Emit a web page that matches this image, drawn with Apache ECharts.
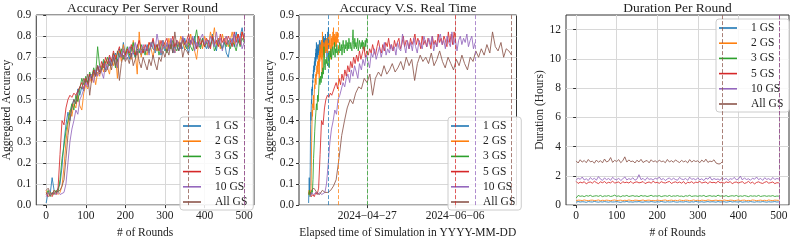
<!DOCTYPE html>
<html><head><meta charset="utf-8">
<script src="https://cdn.jsdelivr.net/npm/echarts@6/dist/echarts.min.js"></script>
<style>html,body{margin:0;padding:0;background:#fff}#c{width:793px;height:244px}</style>
</head><body><div id="c"></div>
<script>
// ---------- data ----------
const seriesNames = ['1 GS','2 GS','3 GS','5 GS','10 GS','All GS'];
const roundStep = 5; // one value every 5 server rounds
const roundTicks = [0,100,200,300,400,500];
const durationTicks = [0,2,4,6,8,10,12];
const dateTicks = ['2024-04-27','2024-06-06'];
const simStart = '2024-03-31T07:00:00Z';
const realTimeEndDays = [9.2,13.4,26.6,66.9,75.8,92.4];

const acc1GS = [0.01,0.06,0.05,0.13,0.07,0.06,0.08,
0.10,0.18,0.30,0.38,0.44,0.40,0.47,0.50,0.48,0.55,0.52,0.56,0.54,0.59,
0.58,0.62,0.60,0.64,0.61,0.66,0.63,0.65,0.68,0.64,
0.67,0.70,0.66,0.69,0.72,0.68,0.74,0.70,0.77,0.71,
0.73,0.69,0.75,0.72,0.70,0.76,0.73,0.71,0.74,0.72,
0.76,0.73,0.75,0.78,0.72,0.74,0.77,0.71,0.75,0.73,
0.76,0.74,0.78,0.72,0.75,0.77,0.73,0.76,0.74,0.79,
0.75,0.72,0.78,0.76,0.80,0.74,0.77,0.75,0.79,0.76,
0.74,0.78,0.75,0.81,0.77,0.73,0.79,0.76,0.74,0.78,
0.72,0.70,0.76,0.79,0.75,0.82,0.77,0.80,0.84,0.78];
const acc2GS = [0.07,0.05,0.06,0.05,0.07,0.06,0.05,
0.06,0.09,0.18,0.30,0.38,0.45,0.42,0.48,0.46,0.52,0.47,0.45,0.53,0.57,
0.55,0.60,0.58,0.62,0.57,0.63,0.61,0.66,0.63,0.68,
0.65,0.62,0.69,0.66,0.71,0.60,0.73,0.68,0.76,0.70,
0.74,0.71,0.69,0.78,0.72,0.62,0.82,0.70,0.75,0.73,
0.71,0.77,0.74,0.70,0.76,0.73,0.78,0.72,0.75,0.77,
0.73,0.79,0.74,0.76,0.72,0.78,0.75,0.80,0.77,0.74,
0.78,0.75,0.81,0.76,0.73,0.69,0.77,0.79,0.74,0.80,
0.77,0.75,0.82,0.78,0.84,0.76,0.79,0.74,0.81,0.77,
0.80,0.75,0.78,0.82,0.76,0.79,0.81,0.77,0.82,0.79];
const acc3GS = [0.05,0.07,0.04,0.06,0.05,0.07,0.06,
0.12,0.22,0.28,0.35,0.40,0.44,0.48,0.45,0.52,0.49,0.55,0.60,0.57,0.61,
0.58,0.63,0.60,0.65,0.62,0.75,0.66,0.64,0.69,0.67,
0.70,0.66,0.68,0.72,0.65,0.73,0.70,0.74,0.69,0.72,
0.75,0.71,0.73,0.77,0.70,0.74,0.72,0.76,0.73,0.71,
0.75,0.72,0.77,0.74,0.73,0.76,0.71,0.75,0.78,0.74,
0.72,0.76,0.74,0.78,0.75,0.73,0.77,0.74,0.79,0.76,
0.74,0.77,0.75,0.73,0.78,0.83,0.76,0.74,0.79,0.75,
0.77,0.74,0.76,0.79,0.73,0.75,0.78,0.76,0.74,0.77,
0.75,0.78,0.74,0.77,0.76,0.73,0.78,0.75,0.79,0.77];
const acc5GS = [0.06,0.04,0.05,0.04,0.06,0.05,0.08,
0.24,0.40,0.38,0.46,0.50,0.52,0.51,0.53,0.52,0.54,0.56,0.58,0.55,0.60,
0.57,0.62,0.59,0.64,0.61,0.66,0.63,0.68,0.65,0.70,
0.67,0.71,0.68,0.73,0.69,0.72,0.75,0.70,0.73,0.71,
0.74,0.72,0.76,0.73,0.71,0.75,0.78,0.74,0.72,0.76,
0.73,0.77,0.75,0.79,0.74,0.76,0.73,0.78,0.75,0.77,
0.79,0.74,0.76,0.80,0.75,0.78,0.77,0.74,0.79,0.76,
0.78,0.81,0.76,0.79,0.77,0.74,0.80,0.76,0.78,0.75,
0.79,0.77,0.74,0.80,0.76,0.78,0.75,0.81,0.77,0.79,
0.76,0.80,0.78,0.75,0.82,0.77,0.81,0.76,0.82,0.78];
const acc10GS = [0.04,0.06,0.05,0.05,0.06,0.05,0.06,
0.05,0.05,0.06,0.10,0.20,0.30,0.36,0.40,0.45,0.43,0.50,0.52,0.55,0.58,
0.56,0.60,0.62,0.58,0.64,0.61,0.66,0.63,0.60,0.67,
0.64,0.69,0.66,0.71,0.68,0.65,0.72,0.70,0.74,0.69,
0.72,0.75,0.70,0.73,0.77,0.71,0.74,0.72,0.76,0.73,
0.75,0.71,0.77,0.74,0.73,0.81,0.76,0.72,0.78,0.74,
0.77,0.73,0.79,0.75,0.72,0.78,0.76,0.74,0.80,0.77,
0.75,0.79,0.76,0.80,0.73,0.77,0.75,0.79,0.81,0.76,
0.78,0.74,0.80,0.77,0.75,0.82,0.76,0.79,0.73,0.78,
0.80,0.76,0.79,0.77,0.81,0.75,0.78,0.80,0.74,0.77];
const accAllGS = [0.07,0.08,0.06,0.05,0.07,0.06,0.06,
0.07,0.09,0.12,0.22,0.33,0.40,0.46,0.50,0.48,0.53,0.56,0.55,0.60,0.58,
0.62,0.52,0.60,0.63,0.61,0.66,0.62,0.64,0.67,0.63,
0.65,0.68,0.64,0.70,0.66,0.69,0.59,0.67,0.71,0.68,
0.70,0.67,0.72,0.66,0.69,0.73,0.68,0.65,0.70,0.67,
0.64,0.69,0.66,0.71,0.67,0.64,0.70,0.68,0.73,0.70,
0.74,0.71,0.76,0.72,0.82,0.75,0.73,0.77,0.70,0.74,
0.73,0.71];

const dur1GS = [0.20,0.24,0.21,0.23,0.22,0.19,0.24,0.22,0.21,0.25,
0.22,0.20,0.23,0.21,0.24,0.22,0.20,0.23,0.21,0.22,
0.24,0.21,0.19,0.23,0.22,0.25,0.21,0.22,0.20,0.23,
0.22,0.24,0.21,0.20,0.23,0.22,0.21,0.24,0.22,0.20,
0.23,0.21,0.25,0.22,0.20,0.23,0.21,0.22,0.24,0.21,
0.20,0.23,0.22,0.21,0.24,0.22,0.20,0.23,0.21,0.25,
0.22,0.21,0.23,0.20,0.22,0.24,0.21,0.23,0.22,0.20,
0.24,0.21,0.22,0.23,0.20,0.22,0.25,0.21,0.23,0.22,
0.21,0.24,0.20,0.22,0.23,0.21,0.24,0.22,0.20,0.23,
0.22,0.21,0.24,0.22,0.20,0.23,0.21,0.22,0.24,0.21,0.22];
const dur2GS = [0.30,0.34,0.33,0.31,0.35,0.32,0.30,0.33,0.34,0.31,
0.32,0.35,0.30,0.33,0.31,0.34,0.32,0.30,0.33,0.35,
0.31,0.32,0.34,0.30,0.33,0.31,0.35,0.32,0.30,0.34,
0.33,0.31,0.32,0.35,0.30,0.33,0.34,0.31,0.32,0.30,
0.34,0.32,0.31,0.33,0.35,0.30,0.32,0.34,0.31,0.33,
0.30,0.35,0.32,0.31,0.34,0.33,0.30,0.32,0.35,0.31,
0.33,0.30,0.34,0.32,0.31,0.35,0.33,0.30,0.32,0.34,
0.31,0.33,0.30,0.35,0.32,0.31,0.34,0.33,0.30,0.32,
0.35,0.31,0.33,0.34,0.30,0.32,0.31,0.35,0.33,0.30,
0.32,0.34,0.31,0.33,0.30,0.35,0.32,0.31,0.34,0.33,0.32];
const dur3GS = [0.48,0.66,0.60,0.63,0.58,0.65,0.61,0.67,0.59,0.62,
0.64,0.60,0.66,0.58,0.63,0.61,0.65,0.59,0.62,0.68,
0.60,0.63,0.57,0.64,0.61,0.66,0.59,0.62,0.65,0.60,
0.63,0.58,0.66,0.61,0.64,0.59,0.62,0.67,0.60,0.63,
0.61,0.65,0.58,0.62,0.64,0.60,0.66,0.59,0.63,0.61,
0.65,0.60,0.62,0.58,0.64,0.61,0.67,0.59,0.62,0.63,
0.60,0.64,0.61,0.66,0.58,0.62,0.65,0.60,0.63,0.59,
0.68,0.61,0.63,0.60,0.65,0.58,0.62,0.64,0.61,0.66,
0.59,0.63,0.60,0.65,0.62,0.58,0.64,0.61,0.63,0.60,
0.66,0.59,0.62,0.64,0.60,0.63,0.61,0.65,0.59,0.62,0.61];
const dur5GS = [1.62,1.48,1.57,1.52,1.60,1.45,1.55,1.58,1.50,1.63,
1.54,1.47,1.59,1.53,1.61,1.49,1.56,1.52,1.64,1.50,
1.55,1.58,1.46,1.60,1.53,1.57,1.51,1.62,1.48,1.56,
1.59,1.52,1.55,1.61,1.47,1.54,1.58,1.50,1.63,1.53,
1.56,1.49,1.60,1.54,1.51,1.57,1.62,1.48,1.55,1.59,
1.52,1.58,1.50,1.61,1.45,1.56,1.53,1.60,1.49,1.57,
1.54,1.62,1.51,1.55,1.58,1.47,1.60,1.53,1.56,1.50,
1.63,1.52,1.57,1.49,1.59,1.54,1.61,1.46,1.55,1.58,
1.51,1.56,1.60,1.48,1.53,1.62,1.50,1.57,1.45,1.55,
1.59,1.52,1.48,1.56,1.61,1.50,1.54,1.58,1.47,1.53,1.52];
const dur10GS = [1.70,1.85,1.76,1.92,1.72,1.80,1.68,1.88,1.75,1.83,
1.71,1.95,1.78,1.69,1.86,1.74,1.82,1.70,1.90,1.77,
1.73,1.84,1.68,1.79,1.93,1.72,1.81,1.75,1.87,1.70,
1.78,2.08,1.74,1.83,1.69,1.88,1.76,1.80,1.71,1.85,
1.77,1.92,1.73,1.82,1.68,1.79,1.86,1.72,1.84,1.75,
1.70,1.89,1.78,1.74,1.83,1.69,1.91,1.76,1.81,1.72,
1.87,1.73,1.80,1.68,1.85,1.77,1.93,1.71,1.82,1.75,
1.79,1.70,1.88,1.74,1.84,1.69,1.81,1.76,1.90,1.73,
1.78,1.98,1.72,1.86,1.75,1.80,1.70,1.84,1.77,1.92,
1.74,1.83,1.69,1.87,1.76,1.81,1.71,1.89,1.75,1.82,1.78];
const durAllGS = [3.02,2.88,3.10,2.94,3.05,2.90,3.12,2.96,3.00,2.87,
3.08,2.93,3.04,2.89,3.15,2.95,3.01,3.25,2.92,3.06,
2.98,3.11,2.90,3.03,3.30,2.94,3.09,2.97,3.02,2.88,
3.07,2.95,3.13,2.91,3.00,3.05,2.89,3.10,2.96,3.03,
2.92,3.08,2.97,3.01,2.90,3.12,2.95,3.04,2.93,3.09,
2.99,2.91,3.06,2.96,3.02,2.89,3.11,2.94,3.05,2.98,
3.03,2.90,3.08,2.95,3.14,2.92,3.01,2.97,3.10,2.88,
2.82,2.82,2.96];

// ---------- styling / assembly ----------
const colors = ['#1f77b4','#ff7f0e','#2ca02c','#d62728','#9467bd','#8c564b'];
const accData = [acc1GS,acc2GS,acc3GS,acc5GS,acc10GS,accAllGS];
const durData = [dur1GS,dur2GS,dur3GS,dur5GS,dur10GS,durAllGS];
const FONT = 'Liberation Serif';
const DAY = 86400000;
const t0 = Date.parse(simStart);
const dateTickVals = dateTicks.map(d => Date.parse(d + 'T00:00:00Z'));
const fmtDate = v => { const d = new Date(v); const p = n => String(n).padStart(2,'0');
  return d.getUTCFullYear() + '\u2212' + p(d.getUTCMonth()+1) + '\u2212' + p(d.getUTCDate()); };

const gridLine = {show:true, lineStyle:{color:'#d8d8d8', width:1}};
const labelStyle = {fontFamily:FONT, fontSize:11.5, color:'#222'};
const nameStyle = {fontFamily:FONT, fontSize:11.5, color:'#222'};
const tick = extra => Object.assign({show:true, length:3, inside:false, lineStyle:{color:'#333'}}, extra||{});

const series = [];
for (let s = 0; s < 6; s++) {
  const acc = accData[s], dur = durData[s], col = colors[s];
  const lastRound = (acc.length - 1) * roundStep;
  const ls = {width:1, color:col, opacity:0.85};
  const ml = v => ({silent:true, symbol:'none', label:{show:false},
    lineStyle:{type:[4,2], color:col, width:1, opacity:0.75}, data:[{xAxis:v}]});
  series.push({name:seriesNames[s], type:'line', xAxisIndex:0, yAxisIndex:0, showSymbol:false,
    color:col, lineStyle:ls, data:acc.map((v,i)=>[i*roundStep, v]), markLine:ml(lastRound)});
  // elapsed real time: cumulative round durations scaled to the series' end time
  let cum = 0; const cums = dur.map(d => (cum += d));
  const xs = cums.map(c => t0 + c / cum * realTimeEndDays[s] * DAY);
  series.push({name:seriesNames[s], type:'line', xAxisIndex:1, yAxisIndex:1, showSymbol:false,
    color:col, lineStyle:ls, data:acc.map((v,i)=>[xs[i], v]), markLine:ml(xs[xs.length-1])});
  series.push({name:seriesNames[s], type:'line', xAxisIndex:2, yAxisIndex:2, showSymbol:false,
    color:col, lineStyle:ls, data:dur.map((v,i)=>[i*roundStep, v]), markLine:ml(lastRound)});
}

const legendBase = {orient:'vertical', data:seriesNames, icon:'rect', itemWidth:18, itemHeight:1.6, itemGap:3.2,
  selectedMode:false, padding:[3,6,2,3], borderColor:'#cccccc', borderWidth:1, borderRadius:3,
  backgroundColor:'rgba(255,255,255,0.85)',
  textStyle:{fontFamily:FONT, fontSize:11.5, color:'#222', lineHeight:11, padding:[0,0,0,9]}};

const grids = [
  {left:31, top:15, width:223, height:202},
  {left:299, top:15, width:217.5, height:202},
  {left:566, top:15, width:223, height:202}
].map(g => Object.assign(g, {show:true, borderColor:'#333', borderWidth:1, containLabel:false}));

const option = {
  animation:false,
  title:[
    {text:'Accuracy Per Server Round', left:142.5, top:1, textAlign:'center', padding:0},
    {text:'Accuracy V.S. Real Time', left:408, top:1, textAlign:'center', padding:0},
    {text:'Duration Per Round', left:677.5, top:1, textAlign:'center', padding:0}
  ].map(t => Object.assign(t, {textStyle:{fontFamily:FONT, fontSize:13.5, fontWeight:'normal', color:'#222'}})),
  legend:[
    Object.assign({left:180, top:117}, legendBase),
    Object.assign({left:448, top:117}, legendBase),
    Object.assign({left:716, top:19}, legendBase)
  ],
  grid:grids,
  xAxis:[
    {type:'value', gridIndex:0, min:-25, max:525, axisLine:{show:false},
     axisTick:tick({customValues:roundTicks}), axisLabel:Object.assign({customValues:roundTicks, margin:5}, labelStyle),
     splitLine:gridLine, name:'# of Rounds', nameLocation:'middle', nameGap:16, nameTextStyle:nameStyle},
    {type:'value', gridIndex:1, min:Date.UTC(2024,2,27), max:Date.UTC(2024,6,3,22), axisLine:{show:false},
     axisTick:tick({customValues:dateTickVals}),
     axisLabel:Object.assign({customValues:dateTickVals, margin:5, formatter:fmtDate}, labelStyle),
     splitLine:gridLine, name:'Elapsed time of Simulation in YYYY-MM-DD', nameLocation:'middle', nameGap:16, nameTextStyle:nameStyle},
    {type:'value', gridIndex:2, min:-25, max:525, axisLine:{show:false},
     axisTick:tick({customValues:roundTicks}), axisLabel:Object.assign({customValues:roundTicks, margin:5}, labelStyle),
     splitLine:gridLine, name:'# of Rounds', nameLocation:'middle', nameGap:16, nameTextStyle:nameStyle}
  ],
  yAxis:[
    {type:'value', gridIndex:0, min:0, max:0.9, interval:0.1, axisLine:{show:false}, axisTick:tick(),
     axisLabel:Object.assign({formatter:v=>v.toFixed(1), margin:5}, labelStyle), splitLine:gridLine,
     name:'Aggregated Accuracy', nameLocation:'middle', nameGap:16, nameTextStyle:nameStyle},
    {type:'value', gridIndex:1, min:0, max:0.9, interval:0.1, axisLine:{show:false}, axisTick:tick(),
     axisLabel:Object.assign({formatter:v=>v.toFixed(1), margin:5}, labelStyle), splitLine:gridLine,
     name:'Aggregated Accuracy', nameLocation:'middle', nameGap:18, nameTextStyle:nameStyle},
    {type:'value', gridIndex:2, min:0, max:13, interval:2, axisLine:{show:false},
     axisTick:tick({customValues:durationTicks}), axisLabel:Object.assign({customValues:durationTicks, margin:5}, labelStyle),
     splitLine:gridLine, name:'Duration (Hours)', nameLocation:'middle', nameGap:15, nameTextStyle:nameStyle}
  ],
  series:series
};
const chart = echarts.init(document.getElementById('c'), null, {renderer:'canvas'});
chart.setOption(option);
</script></body></html>
